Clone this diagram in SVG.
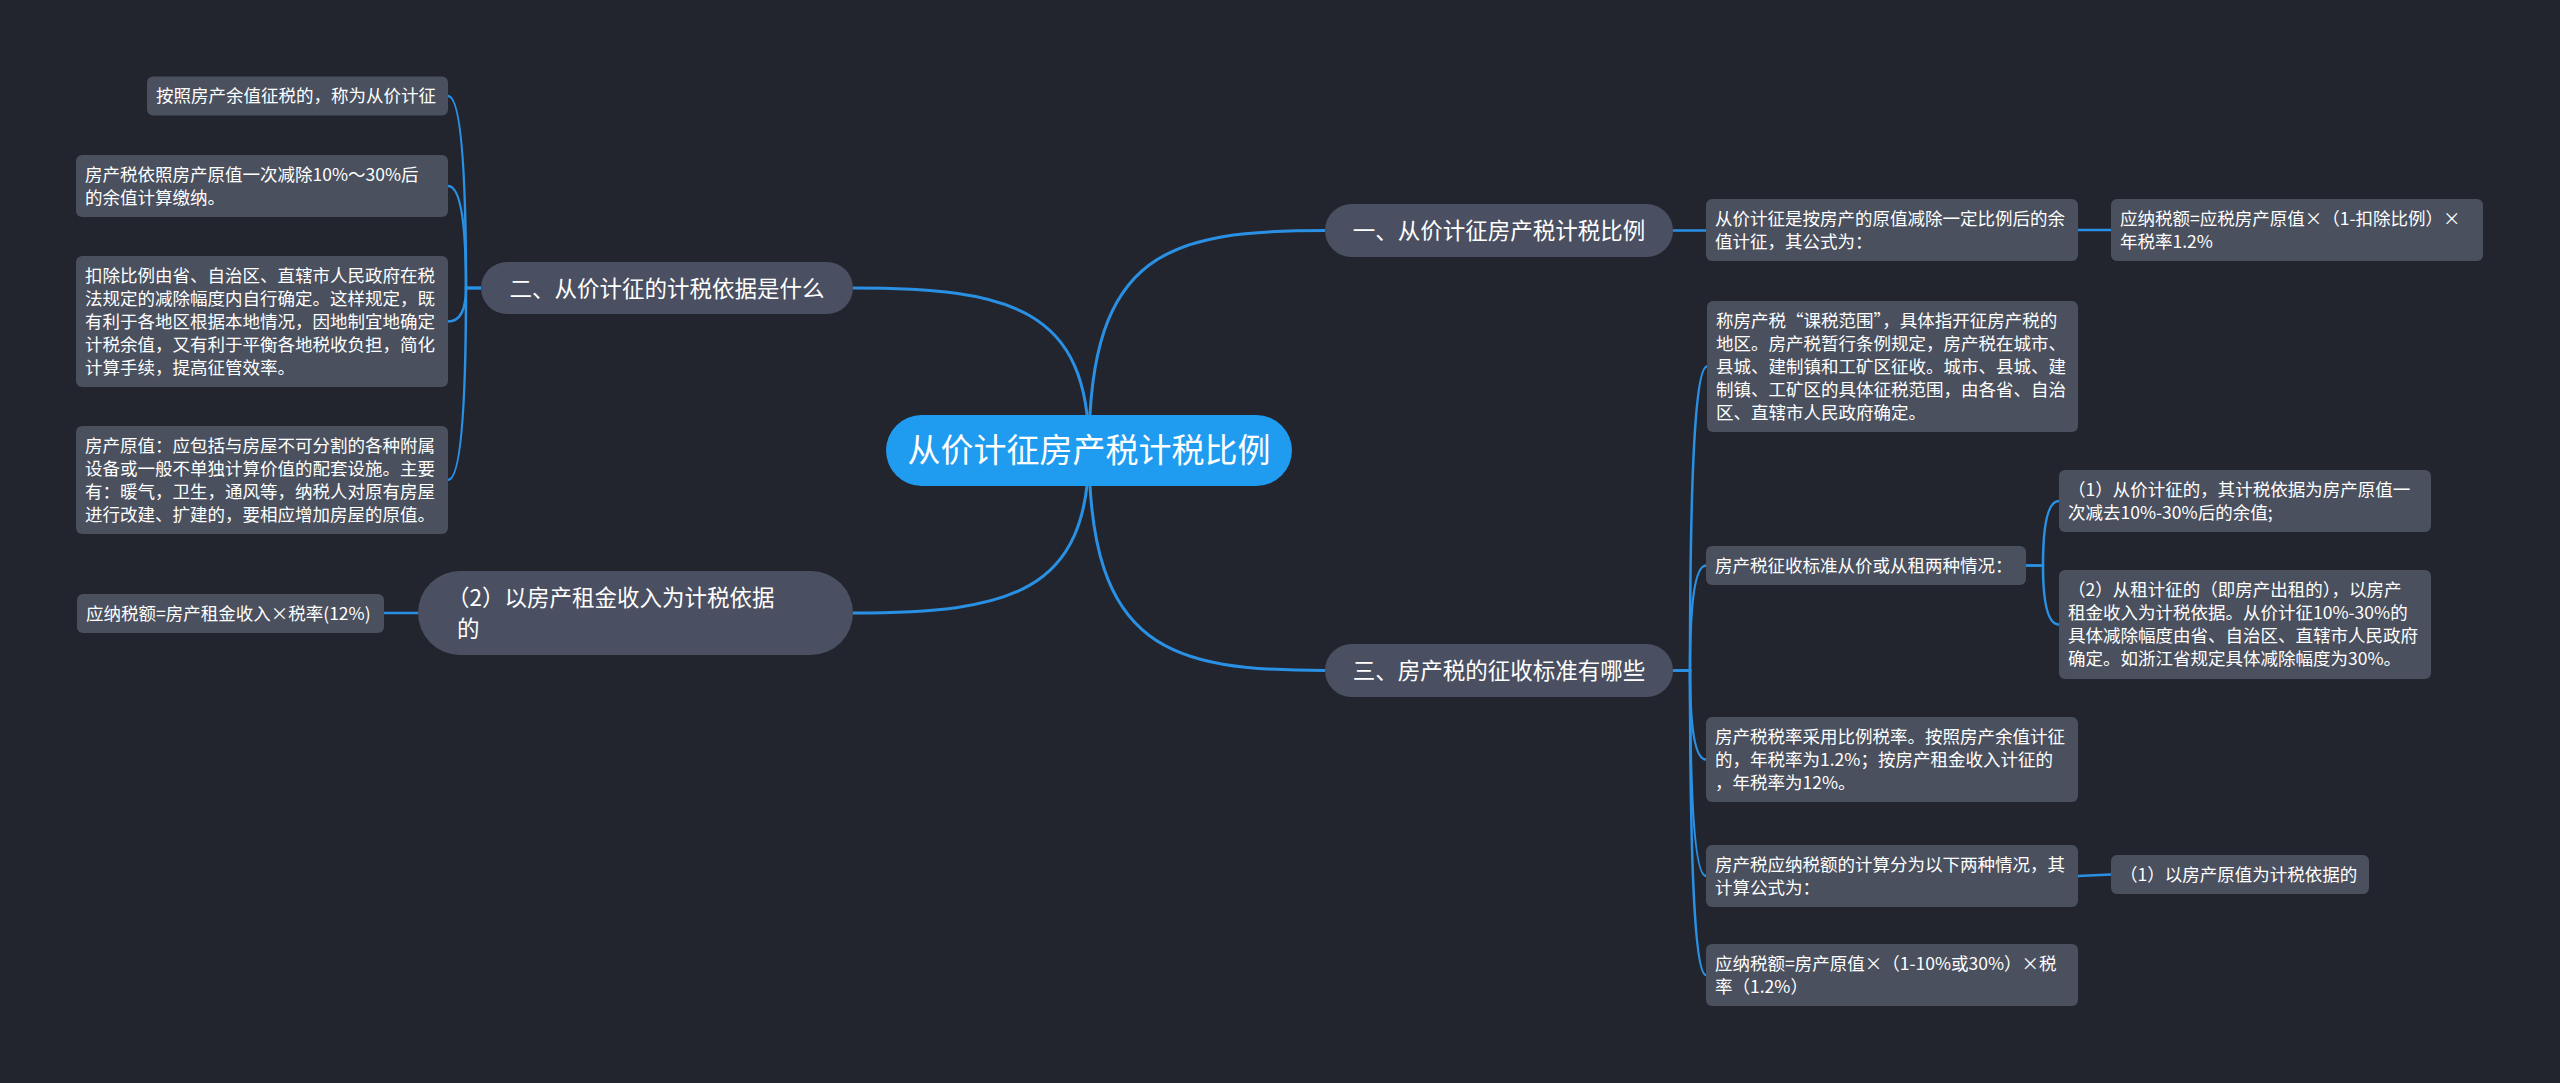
<svg xmlns="http://www.w3.org/2000/svg" width="2560" height="1083" viewBox="0 0 2560 1083">
<style>
.n{fill:#4a505e}
.p{fill:#4a5061}
.r{fill:#1f9bf0}
.t{fill:#ffffff;font-family:"Noto Sans CJK SC","Noto Sans",sans-serif;font-size:17.5px}
.tp{fill:#ffffff;font-family:"Noto Sans CJK SC","Noto Sans",sans-serif;font-size:22.5px}
.tr{fill:#ffffff;font-family:"Noto Sans CJK SC","Noto Sans",sans-serif;font-size:33px}
.c{fill:none;stroke:#2a90e4;stroke-width:2.5}
.cm{fill:none;stroke:#2a90e4;stroke-width:3}
</style>
<rect x="0" y="0" width="2560" height="1083" fill="#22252e"/>
<g id="connectors">
<path class="cm" d="M1089,450 C1089,250 1170,230.5 1325,230.5"/>
<path class="cm" d="M1089,450 C1089,650 1170,670.5 1325,670.5"/>
<path class="cm" d="M1089,450 C1089,308 1010,288 853,288"/>
<path class="cm" d="M1089,450 C1089,593 1010,613 853,613"/>
<path class="c" d="M481,288 H466 Q466,96 448,96"/>
<path class="c" d="M481,288 H466 Q466,186 448,186"/>
<path class="c" d="M481,288 H466 Q466,321.5 448,321.5"/>
<path class="c" d="M481,288 H466 Q466,480 448,480"/>
<path class="c" d="M418,613 H384"/>
<path class="c" d="M1673,230.5 H1706"/>
<path class="c" d="M2078,230 H2111"/>
<path class="c" d="M1673,670.5 H1690 Q1690,366.5 1707,366.5"/>
<path class="c" d="M1673,670.5 H1690 Q1690,565.5 1706,565.5"/>
<path class="c" d="M1673,670.5 H1690 Q1690,759.5 1706,759.5"/>
<path class="c" d="M1673,670.5 H1690 Q1690,876 1706,876"/>
<path class="c" d="M1673,670.5 H1690 Q1690,975 1706,975"/>
<path class="c" d="M2026,565.5 H2043 Q2043,501 2059,501"/>
<path class="c" d="M2026,565.5 H2043 Q2043,624.5 2059,624.5"/>
<path class="c" d="M2078,876 L2111,874.5"/>
</g>
<g id="root">
<rect class="r" x="886" y="415" width="406" height="71" rx="35.5"/>
<text class="tr" x="1089" y="462" text-anchor="middle">从价计征房产税计税比例</text>
</g>
<g id="n-left1">
<rect class="p" x="481" y="262" width="372" height="52" rx="26"/>
<text class="tp" x="667" y="296.5" text-anchor="middle">二、从价计征的计税依据是什么</text>
</g>
<g id="n-left1-a">
<rect class="n" x="147" y="76.5" width="301" height="39" rx="6"/>
<text class="t" x="156" y="102">按照房产余值征税的，称为从价计征</text>
</g>
<g id="n-left1-b">
<rect class="n" x="76" y="155" width="372" height="62" rx="6"/>
<text class="t" x="85" y="180.5">房产税依照房产原值一次减除10%～30%后</text>
<text class="t" x="85" y="203.5">的余值计算缴纳。</text>
</g>
<g id="n-left1-c">
<rect class="n" x="76" y="256" width="372" height="131" rx="6"/>
<text class="t" x="85" y="281.5">扣除比例由省、自治区、直辖市人民政府在税</text>
<text class="t" x="85" y="304.5">法规定的减除幅度内自行确定。这样规定，既</text>
<text class="t" x="85" y="327.5">有利于各地区根据本地情况，因地制宜地确定</text>
<text class="t" x="85" y="350.5">计税余值，又有利于平衡各地税收负担，简化</text>
<text class="t" x="85" y="373.5">计算手续，提高征管效率。</text>
</g>
<g id="n-left1-d">
<rect class="n" x="76" y="426" width="372" height="108" rx="6"/>
<text class="t" x="85" y="451.5">房产原值：应包括与房屋不可分割的各种附属</text>
<text class="t" x="85" y="474.5">设备或一般不单独计算价值的配套设施。主要</text>
<text class="t" x="85" y="497.5">有：暖气，卫生，通风等，纳税人对原有房屋</text>
<text class="t" x="85" y="520.5">进行改建、扩建的，要相应增加房屋的原值。</text>
</g>
<g id="n-left2">
<rect class="p" x="418" y="571" width="435" height="84" rx="42"/>
<text class="tp" x="447" y="605.5">（2）以房产租金收入为计税依据</text>
<text class="tp" x="457" y="636.5">的</text>
</g>
<g id="n-left2-a">
<rect class="n" x="77" y="594" width="307" height="39" rx="6"/>
<text class="t" x="86" y="619.5">应纳税额=房产租金收入×税率(12%)</text>
</g>
<g id="n-right1">
<rect class="p" x="1325" y="204" width="348" height="53" rx="26.5"/>
<text class="tp" x="1499" y="239" text-anchor="middle">一、从价计征房产税计税比例</text>
</g>
<g id="n-right1-a">
<rect class="n" x="1706" y="199" width="372" height="62" rx="6"/>
<text class="t" x="1715" y="224.5">从价计征是按房产的原值减除一定比例后的余</text>
<text class="t" x="1715" y="247.5">值计征，其公式为：</text>
</g>
<g id="n-right1-b">
<rect class="n" x="2111" y="199" width="372" height="62" rx="6"/>
<text class="t" x="2120" y="224.5">应纳税额=应税房产原值×（1-扣除比例）×</text>
<text class="t" x="2120" y="247.5">年税率1.2%</text>
</g>
<g id="n-right2">
<rect class="p" x="1325" y="644" width="348" height="53" rx="26.5"/>
<text class="tp" x="1499" y="679" text-anchor="middle">三、房产税的征收标准有哪些</text>
</g>
<g id="n-right2-a">
<rect class="n" x="1707" y="301" width="371" height="131" rx="6"/>
<text class="t" x="1716" y="326.5">称房产税“课税范围”，具体指开征房产税的</text>
<text class="t" x="1716" y="349.5">地区。房产税暂行条例规定，房产税在城市、</text>
<text class="t" x="1716" y="372.5">县城、建制镇和工矿区征收。城市、县城、建</text>
<text class="t" x="1716" y="395.5">制镇、工矿区的具体征税范围，由各省、自治</text>
<text class="t" x="1716" y="418.5">区、直辖市人民政府确定。</text>
</g>
<g id="n-right2-b">
<rect class="n" x="1706" y="546" width="320" height="39" rx="6"/>
<text class="t" x="1715" y="571.5">房产税征收标准从价或从租两种情况：</text>
</g>
<g id="n-right2-b1">
<rect class="n" x="2059" y="470" width="372" height="62" rx="6"/>
<text class="t" x="2068" y="495.5">（1）从价计征的，其计税依据为房产原值一</text>
<text class="t" x="2068" y="518.5">次减去10%-30%后的余值;</text>
</g>
<g id="n-right2-b2">
<rect class="n" x="2059" y="570" width="372" height="109" rx="6"/>
<text class="t" x="2068" y="595.5">（2）从租计征的（即房产出租的），以房产</text>
<text class="t" x="2068" y="618.5">租金收入为计税依据。从价计征10%-30%的</text>
<text class="t" x="2068" y="641.5">具体减除幅度由省、自治区、直辖市人民政府</text>
<text class="t" x="2068" y="664.5">确定。如浙江省规定具体减除幅度为30%。</text>
</g>
<g id="n-right2-c">
<rect class="n" x="1706" y="717" width="372" height="85" rx="6"/>
<text class="t" x="1715" y="742.5">房产税税率采用比例税率。按照房产余值计征</text>
<text class="t" x="1715" y="765.5">的，年税率为1.2%；按房产租金收入计征的</text>
<text class="t" x="1715" y="788.5">，年税率为12%。</text>
</g>
<g id="n-right2-d">
<rect class="n" x="1706" y="845" width="372" height="62" rx="6"/>
<text class="t" x="1715" y="870.5">房产税应纳税额的计算分为以下两种情况，其</text>
<text class="t" x="1715" y="893.5">计算公式为：</text>
</g>
<g id="n-right2-d1">
<rect class="n" x="2111" y="855" width="258" height="39" rx="6"/>
<text class="t" x="2120" y="880.5">（1）以房产原值为计税依据的</text>
</g>
<g id="n-right2-e">
<rect class="n" x="1706" y="944" width="372" height="62" rx="6"/>
<text class="t" x="1715" y="969.5">应纳税额=房产原值×（1-10%或30%）×税</text>
<text class="t" x="1715" y="992.5">率（1.2%）</text>
</g>
</svg>
